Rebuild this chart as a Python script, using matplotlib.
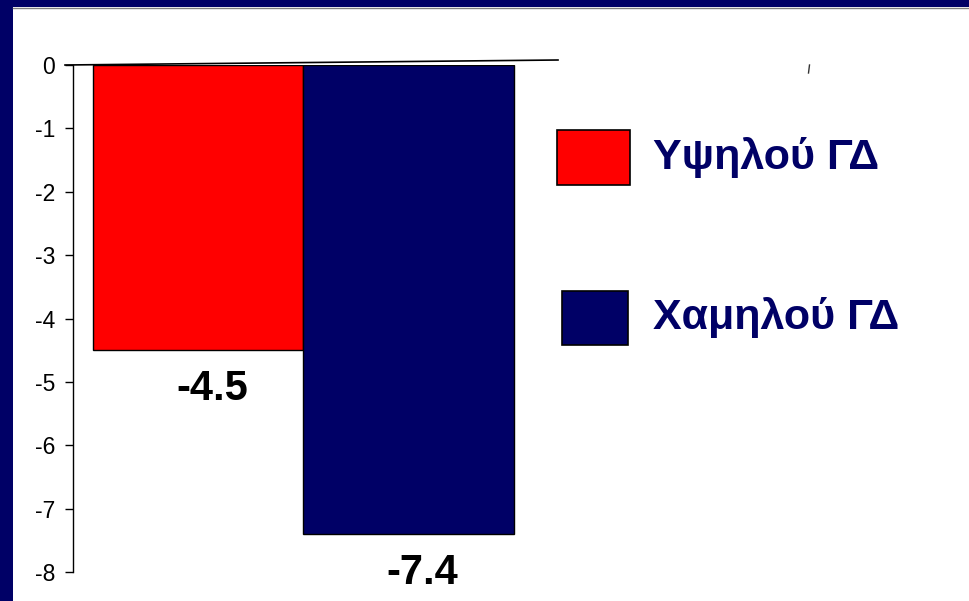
import matplotlib
matplotlib.use("Agg")
import matplotlib.pyplot as plt
from matplotlib.patches import Rectangle
from matplotlib.lines import Line2D

plt.rcParams['font.family'] = ['Liberation Sans', 'DejaVu Sans']

# Data
groups = ["Υψηλού ΓΔ", "Χαμηλού ΓΔ"]
values = [-4.5, -7.4]
value_labels = ["-4.5", "-7.4"]
colors = ["#ff0000", "#000066"]
yticks = [0, -1, -2, -3, -4, -5, -6, -7, -8]

W, H = 970, 601
fig = plt.figure(figsize=(W / 100, H / 100), dpi=100)
fig.patch.set_facecolor("white")

def fx(px):
    return px / W

def fy(py):
    return 1 - py / H

# Frame strips along the left and top edges
fig.patches.append(Rectangle((0, 0), fx(13), 1, transform=fig.transFigure,
                             facecolor="#000066", edgecolor="none", zorder=0))
fig.patches.append(Rectangle((0, fy(7)), 1, 7 / H, transform=fig.transFigure,
                             facecolor="#000066", edgecolor="none", zorder=0))
fig.lines.append(Line2D([fx(13), 1], [fy(7.5), fy(7.5)], transform=fig.transFigure,
                        color="#808080", lw=1))

# Plot area
ax = fig.add_axes([fx(73), fy(572), fx(558) - fx(73), (572 - 65) / H])
x = list(range(len(values)))
ax.bar(x, values, width=1.0, color=colors, edgecolor="black", linewidth=1, zorder=2)

ax.set_ylim(-8, 0)
ax.set_xlim(-0.595, 1.71)
ax.set_yticks(yticks)
ax.set_yticklabels([str(t) for t in yticks])
ax.set_xticks([])
ax.tick_params(axis="y", direction="out", length=6, width=1, labelsize=16.5, pad=7,
               color="black")
for side in ("top", "right", "bottom"):
    ax.spines[side].set_visible(False)
ax.spines["left"].set_linewidth(1)

# Zero line across the top, running a touch upward to the right
ax.plot([-0.0165, 1.0], [1.0, 1.0 + 5 / 507], transform=ax.transAxes, color="black",
        lw=1.2, clip_on=False, zorder=3)

# Value labels below each bar
for xi, v, lab in zip(x, values, value_labels):
    ax.annotate(lab, xy=(xi + 0.067, v), xytext=(0, -39), textcoords="offset pixels",
                ha="center", va="center", fontsize=30, fontweight="bold", color="black",
                annotation_clip=False)

# Legend
legend_boxes = [(557, 130, 73, 55), (562, 291, 66, 54)]
text_y = [158, 318]
for (lx, ly, lw, lh), c, name, ty in zip(legend_boxes, colors, groups, text_y):
    fig.patches.append(Rectangle((fx(lx), fy(ly + lh)), lw / W, lh / H,
                                 transform=fig.transFigure, facecolor=c,
                                 edgecolor="black", linewidth=1.2))
    fig.text(fx(653), fy(ty), name, fontsize=31, fontweight="bold", color="#000066",
             ha="left", va="center")

# Small stray stroke at the upper right
fig.lines.append(Line2D([fx(808.5), fx(809.5)], [fy(73), fy(65)], transform=fig.transFigure,
                        color="#333333", lw=1))

fig.savefig("out.png", dpi=100, facecolor=fig.get_facecolor())
